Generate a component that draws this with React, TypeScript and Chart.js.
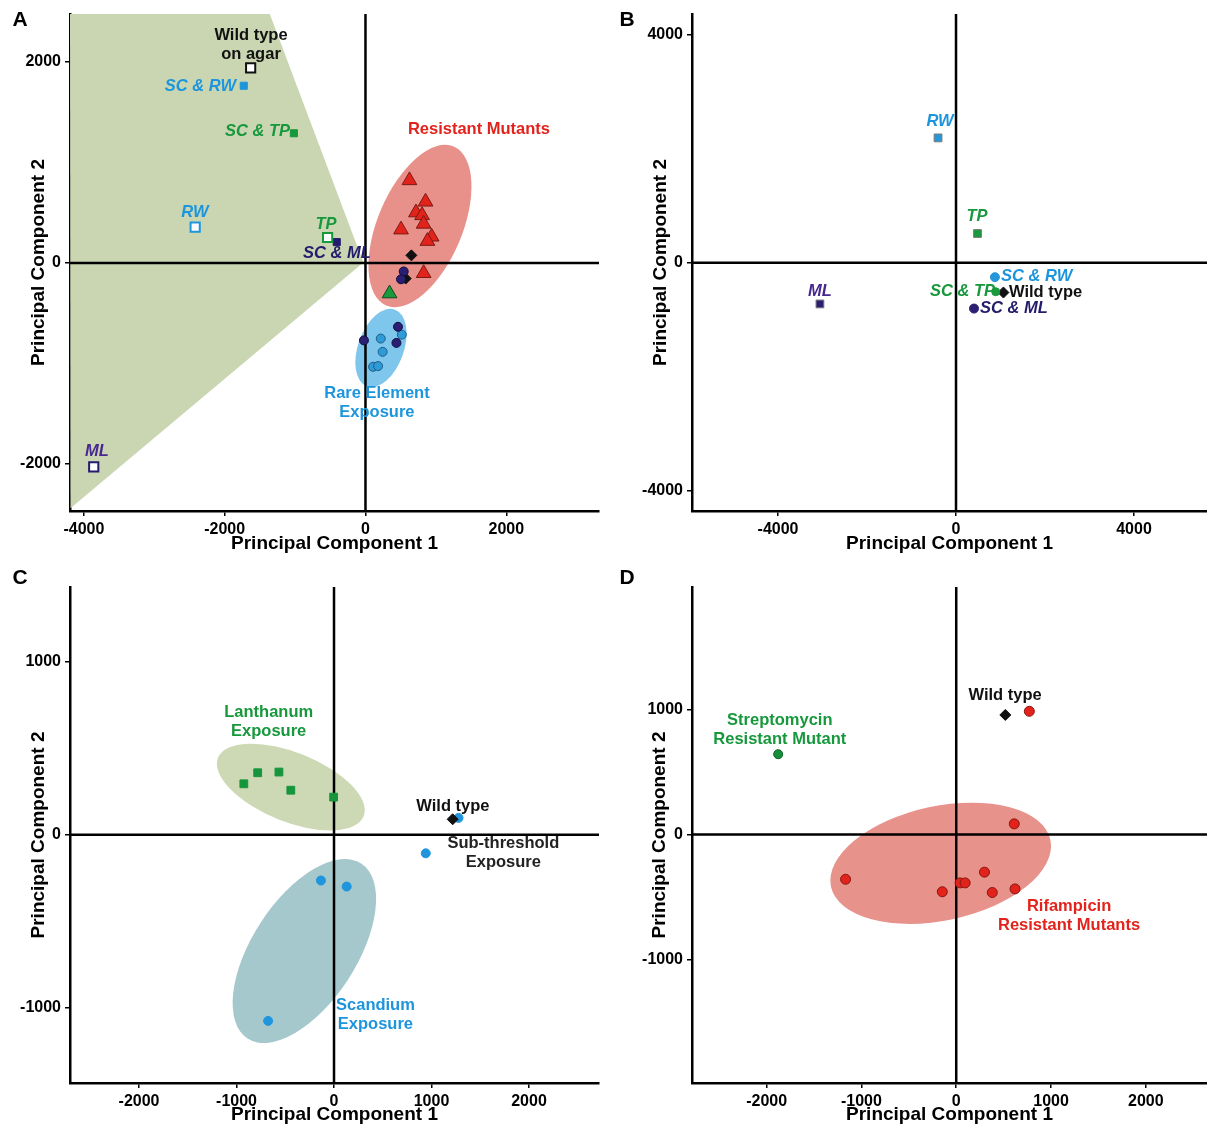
import React, { useEffect, useRef } from 'react';
import { Chart, registerables } from 'chart.js';

Chart.register(...registerables);

const FONT = '"Liberation Sans", Arial, Helvetica, sans-serif';
Chart.defaults.font.family = FONT;

type Pt = { x: number; y: number };
const zip = (xs: number[], ys: number[]): Pt[] => xs.map((x, i) => ({ x, y: ys[i] }));

// ---------- colours ----------
const BLUE = '#1d95dc';
const GREEN = '#17983c';
const NAVY = '#231b6c';
const PURPLE = '#46288f';
const RED = '#e2231b';
const BLACK = '#111111';

// ---------- Panel A data ----------
const aWildAgarX = [-1631], aWildAgarY = [1941];
const aScRwX = [-1729], aScRwY = [1764];
const aScTpX = [-1017], aScTpY = [1291];
const aRwX = [-2419], aRwY = [357];
const aTpX = [-538], aTpY = [254];
const aScMlX = [-408], aScMlY = [208];
const aMlX = [-3860], aMlY = [-2028];
const aResistantX = [625, 853, 717, 804, 826, 505, 940, 880, 826];
const aResistantY = [822, 609, 502, 474, 389, 332, 261, 218, -102];
const aStrepTriX = [342], aStrepTriY = [-304];
const aNavyCircX = [543, 505, 462, -22, 440];
const aNavyCircY = [-84, -162, -635, -770, -795];
const aBlueCircX = [516, 217, 244, 108, 179];
const aBlueCircY = [-713, -752, -884, -1033, -1026];
const aWildX = [652, 571], aWildY = [76, -155];
const aXTicks = [-4000, -2000, 0, 2000];
const aYTicks = [-2000, 0, 2000];

// ---------- Panel B data ----------
const bRwX = [-404], bRwY = [2185];
const bTpX = [483], bTpY = [510];
const bMlX = [-3058], bMlY = [-723];
const bScRwX = [874], bScRwY = [-254];
const bScTpX = [892], bScTpY = [-510];
const bScMlX = [404], bScMlY = [-804];
const bWildX = [1065], bWildY = [-523];
const bXTicks = [-4000, 0, 4000];
const bYTicks = [-4000, 0, 4000];

// ---------- Panel C data ----------
const cLanthanumX = [-925, -783, -565, -443, -4];
const cLanthanumY = [294, 358, 362, 257, 217];
const cScandiumX = [1277, 941, -134, 130, -676];
const cScandiumY = [97, -108, -265, -300, -1077];
const cWildX = [1217], cWildY = [89];
const cXTicks = [-2000, -1000, 0, 1000, 2000];
const cYTicks = [-1000, 0, 1000];

// ---------- Panel D data ----------
const dStrepX = [-1878], dStrepY = [643];
const dWildX = [518], dWildY = [957];
const dRifX = [771, 612, -1167, -147, 41, 94, 298, 380, 620];
const dRifY = [986, 86, -357, -457, -386, -386, -300, -463, -434];
const dXTicks = [-2000, -1000, 0, 1000, 2000];
const dYTicks = [-1000, 0, 1000];

// ---------- helpers ----------
type Ell = { cx: number; cy: number; ex: number; ey: number; ratio: number; color: string };
type Lbl = { lines: string[]; x: number; y: number; color: string; align: CanvasTextAlign; italic?: boolean };

function ds(data: Pt[], style: string, r: number, bg: string, border: string, bw = 1) {
  return {
    data,
    pointStyle: style,
    pointRadius: r,
    pointHoverRadius: r,
    backgroundColor: bg,
    borderColor: border,
    pointBackgroundColor: bg,
    pointBorderColor: border,
    pointBorderWidth: bw,
    borderWidth: bw,
    showLine: false,
  };
}

interface PanelCfg {
  left: number; top: number; w: number; h: number;
  letter: string; letterX: number; letterY: number;
  padTop: number; padRight: number;
  yWidth: number; xHeight: number; yTitlePad: number; xTitlePad: number;
  xMin: number; xMax: number; yMin: number; yMax: number;
  xTicks: number[]; yTicks: number[];
  datasets: any[];
  polygons: Pt[][];
  polyColor: string;
  ellipses: Ell[];
  labels: Lbl[];
}

const panels: PanelCfg[] = [
  {
    left: 0, top: 0, w: 600, h: 562, letter: 'A', letterX: 20, letterY: 20,
    padTop: 14, padRight: 1, yWidth: 70, xHeight: 51, yTitlePad: 29.5, xTitlePad: 8.5,
    xMin: -4197, xMax: 3317, yMin: -2468, yMax: 2478, xTicks: aXTicks, yTicks: aYTicks,
    polygons: [[{ x: -4197, y: 2478 }, { x: -1359, y: 2478 }, { x: -30, y: 5 }, { x: -4190, y: -2440 }]],
    polyColor: '#cad6b2',
    ellipses: [
      { cx: 774, cy: 368, ex: 1253, ey: 1159, ratio: 0.49, color: '#e8918b' },
      { cx: 220, cy: -846, ex: 419, ey: -464, ratio: 0.56, color: '#7ec6ec' },
    ],
    datasets: [
      ds(zip(aWildAgarX, aWildAgarY), 'rect', 6.5, '#ffffff', BLACK, 2),
      ds(zip(aScRwX, aScRwY), 'rect', 5, BLUE, BLUE),
      ds(zip(aScTpX, aScTpY), 'rect', 5, GREEN, GREEN),
      ds(zip(aRwX, aRwY), 'rect', 6.5, '#ffffff', BLUE, 2),
      ds(zip(aTpX, aTpY), 'rect', 6.5, '#ffffff', GREEN, 2),
      ds(zip(aScMlX, aScMlY), 'rect', 5, NAVY, NAVY),
      ds(zip(aMlX, aMlY), 'rect', 6.5, '#ffffff', NAVY, 2),
      ds(zip(aResistantX, aResistantY), 'triangle', 8.5, RED, '#7a1a14', 1),
      ds(zip(aStrepTriX, aStrepTriY), 'triangle', 8.5, '#1a9a3c', '#0f4a22', 1),
      ds(zip(aNavyCircX, aNavyCircY), 'circle', 4.5, '#2a1f72', '#120d40', 1),
      ds(zip(aBlueCircX, aBlueCircY), 'circle', 4.5, '#2e9bd8', '#1f5f85', 1),
      ds(zip(aWildX, aWildY), 'rectRot', 5.5, BLACK, BLACK, 1),
    ],
    labels: [
      { lines: ['Wild type', 'on agar'], x: -1626, y: 2269, color: BLACK, align: 'center' },
      { lines: ['SC & RW'], x: -1839, y: 1761, color: BLUE, align: 'right', italic: true },
      { lines: ['SC & TP'], x: -1072, y: 1313, color: GREEN, align: 'right', italic: true },
      { lines: ['RW'], x: -2422, y: 507, color: BLUE, align: 'center', italic: true },
      { lines: ['TP'], x: -561, y: 388, color: GREEN, align: 'center', italic: true },
      { lines: ['SC & ML'], x: -405, y: 100, color: NAVY, align: 'center', italic: true },
      { lines: ['ML'], x: -3814, y: -1871, color: PURPLE, align: 'center', italic: true },
      { lines: ['Resistant Mutants'], x: 1612, y: 1333, color: RED, align: 'center' },
      { lines: ['Rare Element', 'Exposure'], x: 163, y: -1303, color: BLUE, align: 'center' },
    ],
  },
  {
    left: 600, top: 0, w: 607, h: 562, letter: 'B', letterX: 27, letterY: 20,
    padTop: 14, padRight: 0, yWidth: 92, xHeight: 51, yTitlePad: 51, xTitlePad: 8.5,
    xMin: -5933, xMax: 5640, yMin: -4350, yMax: 4355, xTicks: bXTicks, yTicks: bYTicks,
    polygons: [], polyColor: '#cad6b2', ellipses: [],
    datasets: [
      ds(zip(bRwX, bRwY), 'rect', 5.5, '#2596d8', '#7a7a7a', 1),
      ds(zip(bTpX, bTpY), 'rect', 5.5, '#1a9a3c', '#7a7a7a', 1),
      ds(zip(bMlX, bMlY), 'rect', 5.5, '#2a1f72', '#7a7a7a', 1),
      ds(zip(bScRwX, bScRwY), 'circle', 4.5, '#2596d8', '#2596d8', 1),
      ds(zip(bScTpX, bScTpY), 'circle', 4, '#1a9a3c', '#1a9a3c', 1),
      ds(zip(bScMlX, bScMlY), 'circle', 4.5, '#2a1f72', '#2a1f72', 1),
      ds(zip(bWildX, bWildY), 'rectRot', 5.5, BLACK, BLACK, 1),
    ],
    labels: [
      { lines: ['RW'], x: -360, y: 2469, color: BLUE, align: 'center', italic: true },
      { lines: ['TP'], x: 472, y: 806, color: GREEN, align: 'center', italic: true },
      { lines: ['ML'], x: -3056, y: -508, color: PURPLE, align: 'center', italic: true },
      { lines: ['SC & RW'], x: 1011, y: -245, color: BLUE, align: 'left', italic: true },
      { lines: ['SC & TP'], x: 876, y: -508, color: GREEN, align: 'right', italic: true },
      { lines: ['Wild type'], x: 1191, y: -525, color: BLACK, align: 'left' },
      { lines: ['SC & ML'], x: 539, y: -806, color: NAVY, align: 'left', italic: true },
    ],
  },
  {
    left: 0, top: 565, w: 600, h: 560, letter: 'C', letterX: 20, letterY: 13,
    padTop: 22, padRight: 1, yWidth: 70, xHeight: 42, yTitlePad: 29, xTitlePad: 0.5,
    xMin: -2708, xMax: 2718, yMin: -1436, yMax: 1432, xTicks: cXTicks, yTicks: cYTicks,
    polygons: [], polyColor: '#cad6b2',
    ellipses: [
      { cx: -443, cy: 275, ex: 304, ey: 106, ratio: 0.44, color: '#cdd8b4' },
      { cx: -304, cy: -673, ex: 279, ey: -167, ratio: 0.5, color: '#a4c8cb' },
    ],
    datasets: [
      ds(zip(cLanthanumX, cLanthanumY), 'rect', 5.5, '#16963c', '#16963c', 1),
      ds(zip(cWildX, cWildY), 'rectRot', 5.5, BLACK, BLACK, 1),
      ds(zip(cScandiumX, cScandiumY), 'circle', 4.5, '#1e95dd', '#1e95dd', 1),
    ],
    labels: [
      { lines: ['Lanthanum', 'Exposure'], x: -670, y: 709, color: GREEN, align: 'center' },
      { lines: ['Wild type'], x: 1220, y: 165, color: BLACK, align: 'center' },
      { lines: ['Sub-threshold', 'Exposure'], x: 1737, y: -49, color: '#222222', align: 'center' },
      { lines: ['Scandium', 'Exposure'], x: 425, y: -985, color: BLUE, align: 'center' },
    ],
  },
  {
    left: 600, top: 565, w: 607, h: 560, letter: 'D', letterX: 27, letterY: 13,
    padTop: 22, padRight: 0, yWidth: 92, xHeight: 42, yTitlePad: 50.5, xTitlePad: 0.5,
    xMin: -2787, xMax: 2645, yMin: -1986, yMax: 1980, xTicks: dXTicks, yTicks: dYTicks,
    polygons: [], polyColor: '#cad6b2',
    ellipses: [{ cx: -164, cy: -229, ex: 993, ey: -42, ratio: 0.51, color: '#e8928c' }],
    datasets: [
      ds(zip(dStrepX, dStrepY), 'circle', 4.5, '#168f3a', '#0d5e25', 1),
      ds(zip(dWildX, dWildY), 'rectRot', 5.5, BLACK, BLACK, 1),
      ds(zip(dRifX, dRifY), 'circle', 5, RED, '#8a1612', 1),
    ],
    labels: [
      { lines: ['Wild type'], x: 515, y: 1109, color: BLACK, align: 'center' },
      { lines: ['Streptomycin', 'Resistant Mutant'], x: -1861, y: 909, color: GREEN, align: 'center' },
      { lines: ['Rifampicin', 'Resistant Mutants'], x: 1190, y: -578, color: RED, align: 'center' },
    ],
  },
];

function Panel({ cfg }: { cfg: PanelCfg }) {
  const ref = useRef<HTMLCanvasElement>(null);
  useEffect(() => {
    const canvas = ref.current;
    if (!canvas) return;
    const shapes = {
      id: 'shapes',
      beforeDatasetsDraw(chart: any) {
        const { ctx, chartArea, scales } = chart;
        const xs = scales.x, ys = scales.y;
        ctx.save();
        ctx.beginPath();
        ctx.rect(chartArea.left, chartArea.top, chartArea.right - chartArea.left, chartArea.bottom - chartArea.top);
        ctx.clip();
        for (const poly of cfg.polygons) {
          ctx.beginPath();
          poly.forEach((p, i) => {
            const px = xs.getPixelForValue(p.x), py = ys.getPixelForValue(p.y);
            if (i === 0) ctx.moveTo(px, py); else ctx.lineTo(px, py);
          });
          ctx.closePath();
          ctx.fillStyle = cfg.polyColor;
          ctx.fill();
        }
        for (const e of cfg.ellipses) {
          const cx = xs.getPixelForValue(e.cx), cy = ys.getPixelForValue(e.cy);
          const ex = xs.getPixelForValue(e.ex), ey = ys.getPixelForValue(e.ey);
          const a = Math.hypot(ex - cx, ey - cy);
          const rot = Math.atan2(ey - cy, ex - cx);
          ctx.beginPath();
          ctx.ellipse(cx, cy, a, a * e.ratio, rot, 0, Math.PI * 2);
          ctx.fillStyle = e.color;
          ctx.fill();
        }
        ctx.restore();
        // zero cross-hair lines
        ctx.save();
        ctx.strokeStyle = '#000';
        ctx.lineWidth = 2.5;
        const x0 = xs.getPixelForValue(0), y0 = ys.getPixelForValue(0);
        ctx.beginPath();
        ctx.moveTo(chartArea.left, y0);
        ctx.lineTo(chartArea.right, y0);
        ctx.moveTo(x0, chartArea.top);
        ctx.lineTo(x0, chartArea.bottom);
        ctx.stroke();
        ctx.restore();
      },
      afterDatasetsDraw(chart: any) {
        const { ctx, scales } = chart;
        const xs = scales.x, ys = scales.y;
        ctx.save();
        ctx.textBaseline = 'middle';
        for (const l of cfg.labels) {
          ctx.font = `${l.italic ? 'italic ' : ''}bold 16.5px ${FONT}`;
          ctx.fillStyle = l.color;
          ctx.textAlign = l.align;
          const px = xs.getPixelForValue(l.x), py = ys.getPixelForValue(l.y);
          l.lines.forEach((t, i) => ctx.fillText(t, px, py + i * 19));
        }
        ctx.font = `bold 21px ${FONT}`;
        ctx.fillStyle = '#000';
        ctx.textAlign = 'center';
        ctx.fillText(cfg.letter, cfg.letterX, cfg.letterY);
        ctx.restore();
      },
    };
    const tickFont = { size: 16, weight: 'bold' as const, family: FONT };
    const titleFont = { size: 19, weight: 'bold' as const, family: FONT, lineHeight: 1 };
    const commonScale = (min: number, max: number, ticks: number[]) => ({
      type: 'linear' as const,
      min,
      max,
      offset: false,
      grid: { display: true, drawOnChartArea: false, drawTicks: true, tickLength: 5, color: '#000', lineWidth: 1.5 },
      border: { display: true, color: '#000', width: 2.5 },
      afterBuildTicks: (s: any) => { s.ticks = ticks.map((v) => ({ value: v })); },
      ticks: {
        autoSkip: false,
        maxRotation: 0,
        minRotation: 0,
        padding: 4,
        color: '#000',
        font: tickFont,
        callback: (v: any) => String(v),
      },
    });
    const chart = new Chart(canvas, {
      type: 'scatter',
      data: { datasets: cfg.datasets as any },
      options: {
        responsive: false,
        animation: false,
        events: [],
        devicePixelRatio: 1,
        layout: { autoPadding: false, padding: { top: cfg.padTop, right: cfg.padRight, left: 0, bottom: 0 } },
        plugins: { legend: { display: false }, tooltip: { enabled: false }, title: { display: false } },
        scales: {
          x: {
            ...commonScale(cfg.xMin, cfg.xMax, cfg.xTicks),
            position: 'bottom',
            afterFit: (s: any) => { s.height = cfg.xHeight; s.paddingLeft = 0; s.paddingRight = 0; },
            title: { display: true, text: 'Principal Component 1', color: '#000', font: titleFont, padding: { top: 0, bottom: cfg.xTitlePad } },
          },
          y: {
            ...commonScale(cfg.yMin, cfg.yMax, cfg.yTicks),
            position: 'left',
            afterFit: (s: any) => { s.width = cfg.yWidth; s.paddingTop = 0; s.paddingBottom = 0; },
            title: { display: true, text: 'Principal Component 2', color: '#000', font: titleFont, padding: { top: cfg.yTitlePad, bottom: 0 } },
          },
        },
      } as any,
      plugins: [shapes],
    });
    return () => chart.destroy();
  }, [cfg]);
  return (
    <canvas
      ref={ref}
      width={cfg.w}
      height={cfg.h}
      style={{ position: 'absolute', left: cfg.left, top: cfg.top, width: cfg.w, height: cfg.h }}
    />
  );
}

export default function App() {
  return (
    <div style={{ position: 'absolute', left: 0, top: 0, width: 1207, height: 1125, background: '#fff', overflow: 'hidden' }}>
      {panels.map((p) => (
        <Panel key={p.letter} cfg={p} />
      ))}
    </div>
  );
}
